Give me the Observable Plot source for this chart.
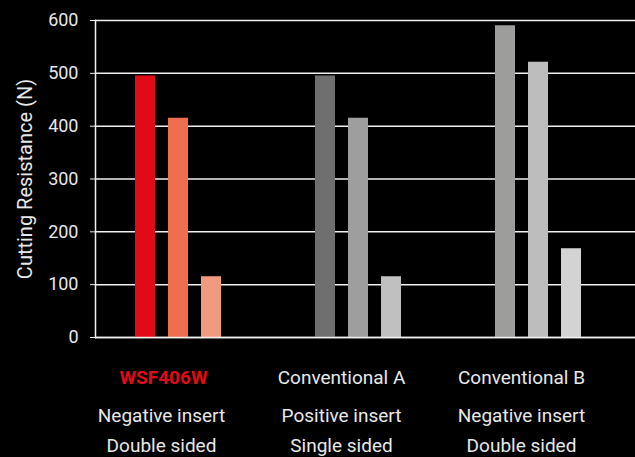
<!DOCTYPE html>
<html><head><meta charset="utf-8">
<script src="https://cdn.jsdelivr.net/npm/d3@7"></script>
<script src="https://cdn.jsdelivr.net/npm/@observablehq/plot@0.6"></script>
<style>
html,body{margin:0;padding:0;background:#000;}
</style>
</head><body><div id="chart"></div>
<script>
const groups = ["WSF406W", "Conventional A", "Conventional B"];
const insertTypes = ["Negative insert", "Positive insert", "Negative insert"];
const sidedness = ["Double sided", "Single sided", "Double sided"];
const highlight = [true, false, false];
const series = ["1", "2", "3"];
const values = [
  [495, 415, 115],
  [495, 415, 115],
  [590, 521, 168]
];
const colors = [
  ["#e30a17", "#ee6e50", "#f19b7e"],
  ["#6f6f6f", "#9e9e9e", "#c0c0c0"],
  ["#9d9d9b", "#bdbdbd", "#d3d3d3"]
];
const yTicks = [0, 100, 200, 300, 400, 500, 600];
const yLabel = "Cutting Resistance (N)";

const bars = groups.flatMap((g, i) => series.map((s, j) => ({group: g, series: s, value: values[i][j], color: colors[i][j]})));
const labels = groups.map((g, i) => ({group: g, insert: insertTypes[i], sided: sidedness[i], highlight: highlight[i]}));

const lineColor = "#f0f0f0";
const textColor = "#e8e8e8";

const chart = Plot.plot({
  width: 635,
  height: 457,
  marginTop: 20,
  marginLeft: 95,
  marginRight: 0,
  marginBottom: 120,
  style: {background: "#000", color: textColor, fontFamily: "Roboto, 'Noto Sans', sans-serif", fontSize: "19px"},
  fx: {domain: groups, padding: 0, axis: null},
  x: {domain: series, paddingInner: 0.4, paddingOuter: 1.39, align: 0.42, axis: null},
  y: {domain: [0, 600]},
  marks: [
    Plot.gridY(yTicks, {stroke: lineColor, strokeOpacity: 1, strokeWidth: 1.5}),
    Plot.barY(bars, {fx: "group", x: "series", y: "value", fill: "color"}),
    Plot.ruleY([0], {stroke: lineColor, strokeWidth: 1.5}),
    Plot.frame({anchor: "left", facetAnchor: "left", stroke: lineColor, strokeWidth: 1.5}),
    Plot.axisY(yTicks, {tickSize: 5, tickPadding: 12, fontSize: 18, stroke: lineColor, label: null}),
    Plot.axisY([], {tickSize: 0, fontSize: 20, label: yLabel, labelAnchor: "center", labelArrow: "none", labelOffset: 78}),
    Plot.text(labels, {filter: d => d.highlight, fx: "group", text: "group", frameAnchor: "bottom", dy: 46, dx: -22, fill: "#e30a17", fontWeight: "bold", fontSize: 19}),
    Plot.text(labels, {filter: d => !d.highlight, fx: "group", text: "group", frameAnchor: "bottom", dy: 46, dx: -24, fill: textColor, fontSize: 19}),
    Plot.text(labels, {fx: "group", text: "insert", frameAnchor: "bottom", dy: 84, dx: -24, fill: textColor, fontSize: 19}),
    Plot.text(labels, {fx: "group", text: "sided", frameAnchor: "bottom", dy: 114, dx: -24, fill: textColor, fontSize: 19})
  ]
});
document.getElementById("chart").append(chart);
</script>
</body></html>
